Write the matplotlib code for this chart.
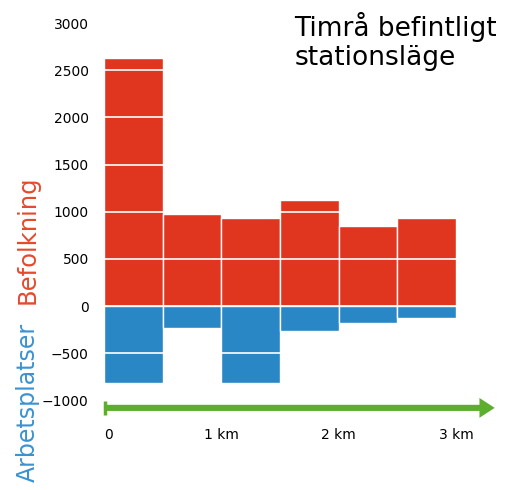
import matplotlib
matplotlib.use("Agg")
import matplotlib.pyplot as plt
import numpy as np

# distance bins (km), 0.5 km wide
bin_starts = [0.0, 0.5, 1.0, 1.5, 2.0, 2.5]
bin_width = 0.5
befolkning = [2630, 975, 930, 1120, 845, 930]
arbetsplatser = [-820, -235, -820, -265, -180, -130]

yticks = [-1000, -500, 0, 500, 1000, 1500, 2000, 2500, 3000]
xticks = [0, 1, 2, 3]
xlabels = ["0", "1 km", "2 km", "3 km"]

RED = "#E0351E"
BLUE = "#2A87C5"
GREEN = "#5BAE2E"


def main() -> None:
    fig = plt.figure(figsize=(5.08, 4.9), dpi=100)
    ax = fig.add_axes([0.2047, 0.1445, 0.7853, 0.8276])

    ax.bar(bin_starts, befolkning, width=bin_width, align="edge",
           color=RED, edgecolor="white", linewidth=1)
    ax.bar(bin_starts, arbetsplatser, width=bin_width, align="edge",
           color=BLUE, edgecolor="white", linewidth=1)

    ax.set_xlim(0, 3.4)
    ax.set_ylim(-1200, 3100)
    ax.set_yticks(yticks)
    ax.set_xticks(xticks, xlabels)
    ax.grid(axis="y", color="white", linewidth=1.2)
    ax.set_axisbelow(False)
    for s in ax.spines.values():
        s.set_visible(False)
    ax.tick_params(axis="y", length=0, pad=11, labelsize=10)
    ax.tick_params(axis="x", length=0, pad=6, labelsize=10)
    ax.get_xticklabels()[0].set_ha("left")

    # distance arrow (polygon in data units, horizontal)
    ax.arrow(0, -1080, 3.33, 0, width=65, head_width=210, head_length=0.13,
             length_includes_head=True, color=GREEN, lw=0, clip_on=False,
             zorder=4)
    ax.plot([0.012, 0.012], [-1005, -1155], color=GREEN, lw=2.5,
            solid_capstyle="butt", clip_on=False, zorder=4)

    fig.text(0.579, 0.975, "Timrå befintligt\nstationsläge", ha="left",
             va="top", fontsize=19, linespacing=1.12)
    fig.text(0.054, 1 - 240 / 490, "Befolkning", rotation=90, ha="center",
             va="center", color="#E6492C", fontsize=17.5)
    fig.text(0.054, 1 - 402 / 490, "Arbetsplatser", rotation=90, ha="center",
             va="center", color="#3A92D2", fontsize=17)

    fig.savefig("out.png", dpi=100)


if __name__ == "__main__":
    main()
